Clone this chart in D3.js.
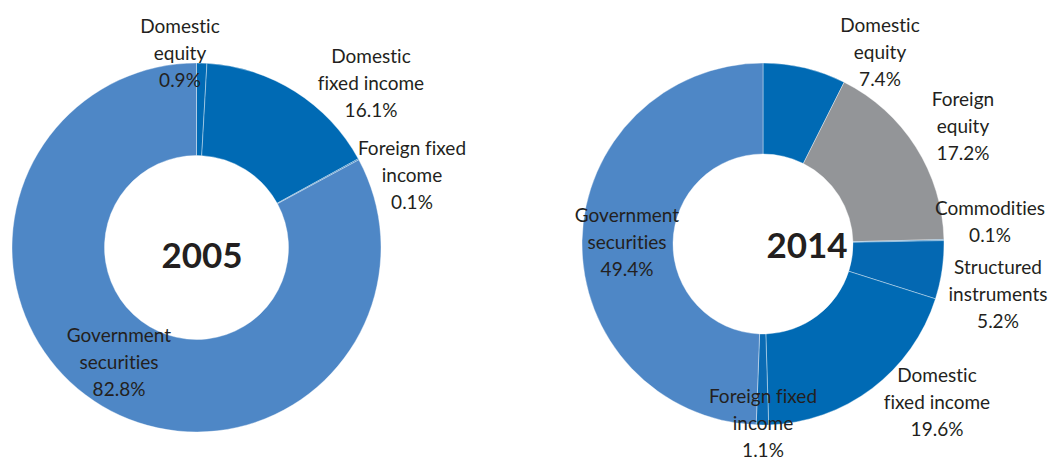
<!DOCTYPE html>
<html>
<head>
<meta charset="utf-8">
<script src="https://cdn.jsdelivr.net/npm/d3@7"></script>
<style>
  html, body { margin: 0; padding: 0; background: #ffffff; }
  svg { display: block; }
  text { font-family: Lato, "Open Sans", sans-serif; fill: #231f20; font-variant-ligatures: none; }
</style>
</head>
<body>
<svg id="chart" width="1051" height="460"></svg>
<script>
// Portfolio composition, share of total (%)
const categories2005 = ["Domestic equity", "Domestic fixed income", "Foreign fixed income", "Government securities"];
const values2005 = [0.9, 16.1, 0.1, 82.8];
const lines2005 = [["Domestic", "equity"], ["Domestic", "fixed income"], ["Foreign fixed", "income"], ["Government", "securities"]];

const categories2014 = ["Domestic equity", "Foreign equity", "Commodities", "Structured instruments",
                        "Domestic fixed income", "Foreign fixed income", "Government securities"];
const values2014 = [7.4, 17.2, 0.1, 5.2, 19.6, 1.1, 49.4];
const lines2014 = [["Domestic", "equity"], ["Foreign", "equity"], ["Commodities"], ["Structured", "instruments"],
                   ["Domestic", "fixed income"], ["Foreign fixed", "income"], ["Government", "securities"]];

const years = ["2005", "2014"];

// Slice colours per category
const colorOf = {
  "Domestic equity": "#006ab4",
  "Foreign equity": "#939598",
  "Commodities": "#0a6cb5",
  "Structured instruments": "#0468b2",
  "Domestic fixed income": "#006ab4",
  "Foreign fixed income": "#0a6bb4",
  "Government securities": "#4e87c6"
};

// Layout: donut geometry and label anchors (first-line baseline)
const layouts = [
  {
    cx: 196.5, cy: 247.5, r0: 92, r1: 184.5,
    year: [202, 268],
    anchors: [[180, 33], [371, 63], [412, 155], [119, 342]]
  },
  {
    cx: 763, cy: 244, r0: 90, r1: 181,
    year: [807, 258],
    anchors: [[880, 32], [963, 106], [990, 215], [998, 274], [937, 382], [763, 403], [627, 222]]
  }
];

const charts = [
  { cats: categories2005, vals: values2005, lines: lines2005 },
  { cats: categories2014, vals: values2014, lines: lines2014 }
];

const svg = d3.select("#chart");
const lineGap = 27;
const fmt = v => d3.format(".1f")(v) + "%";

charts.forEach((c, i) => {
  const L = layouts[i];
  const data = c.cats.map((name, j) => ({ name, value: c.vals[j], lines: c.lines[j], anchor: L.anchors[j] }));

  const pie = d3.pie().sort(null).value(d => d.value).startAngle(0).endAngle(2 * Math.PI);
  const arc = d3.arc().innerRadius(L.r0).outerRadius(L.r1);

  const g = svg.append("g").attr("transform", `translate(${L.cx},${L.cy})`);
  g.selectAll("path")
    .data(pie(data))
    .join("path")
    .attr("d", arc)
    .attr("fill", d => colorOf[d.data.name])
    .attr("stroke", "rgba(255,255,255,0.55)")
    .attr("stroke-width", 0.7);

  // Category labels with value
  const lab = svg.append("g");
  data.forEach(d => {
    const t = lab.append("text")
      .attr("text-anchor", "middle")
      .attr("font-size", 19);
    const rows = d.lines.concat([fmt(d.value)]);
    rows.forEach((s, k) => {
      t.append("tspan")
        .attr("x", d.anchor[0])
        .attr("y", d.anchor[1] + k * lineGap)
        .text(s);
    });
  });

  // Year in the hole
  svg.append("text")
    .attr("x", L.year[0])
    .attr("y", L.year[1])
    .attr("text-anchor", "middle")
    .attr("font-size", 35)
    .attr("font-weight", 700)
    .text(years[i]);
});
</script>
</body>
</html>
